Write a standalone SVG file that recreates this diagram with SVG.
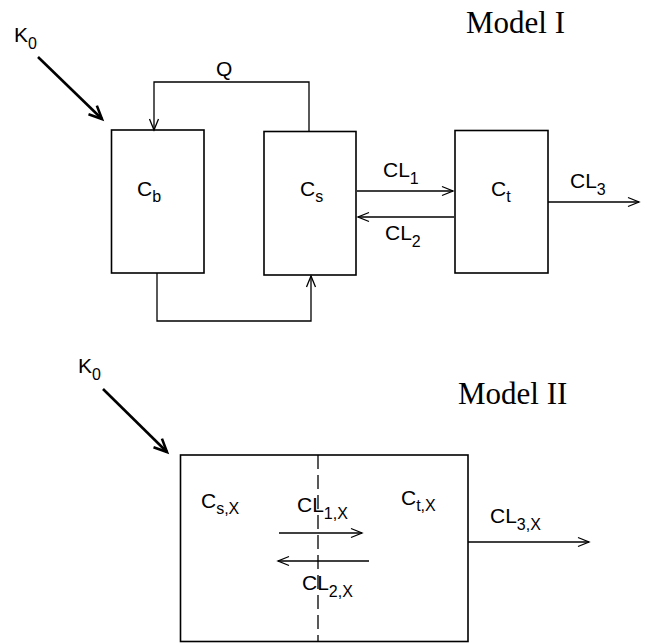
<svg xmlns="http://www.w3.org/2000/svg" width="645" height="643" viewBox="0 0 645 643">
<defs>
<style>
.box{fill:none;stroke:#000;stroke-width:1.6}
.ln{fill:none;stroke:#000;stroke-width:1.3}
.bold{fill:none;stroke:#000;stroke-width:2.6}
.t{font-family:"Liberation Sans",Arial,sans-serif;font-size:21px;fill:#000}
.s{font-size:16px}
.ti{font-family:"Liberation Serif","Times New Roman",serif;font-size:31px;fill:#000}
</style>
<marker id="a" markerUnits="userSpaceOnUse" markerWidth="16" markerHeight="12" refX="12" refY="5" orient="auto" overflow="visible">
<path d="M1,0.5 L12,5 L1,9.5" fill="none" stroke="#000" stroke-width="1.3"/>
</marker>
<marker id="ab" markerUnits="userSpaceOnUse" markerWidth="20" markerHeight="16" refX="14" refY="7" orient="auto" overflow="visible">
<path d="M1,1 L14,7 L1,13" fill="none" stroke="#000" stroke-width="2.6"/>
</marker>
</defs>

<text class="ti" x="466" y="33">Model I</text>
<text class="ti" x="458" y="404">Model II</text>

<g id="Cb"><rect class="box" x="111.5" y="130" width="92.5" height="143"/><text class="t" x="137" y="196">C<tspan class="s" dy="6">b</tspan></text></g>
<g id="Cs"><rect class="box" x="264" y="131.5" width="92" height="143.5"/><text class="t" x="300" y="196">C<tspan class="s" dy="6">s</tspan></text></g>
<g id="Ct"><rect class="box" x="455" y="130.5" width="93" height="142.5"/><text class="t" x="491" y="196">C<tspan class="s" dy="6">t</tspan></text></g>

<g id="ModelII">
<rect class="box" x="180.5" y="455" width="287.5" height="186.5"/>
<line class="ln" x1="318" y1="455" x2="318" y2="642" stroke-dasharray="14 6"/>
<text class="t" x="201" y="508">C<tspan class="s" dy="6">s,X</tspan></text>
<text class="t" x="401" y="505">C<tspan class="s" dy="6">t,X</tspan></text>
</g>

<g id="labels">
<text class="t" x="14" y="42">K<tspan class="s" dy="7">0</tspan></text>
<text class="t" x="78" y="373">K<tspan class="s" dy="7">0</tspan></text>
<text class="t" x="216" y="76">Q</text>
<text class="t" x="383" y="177">CL<tspan class="s" dy="7">1</tspan></text>
<text class="t" x="385" y="240">CL<tspan class="s" dy="7">2</tspan></text>
<text class="t" x="570" y="188">CL<tspan class="s" dy="7">3</tspan></text>
<text class="t" x="297" y="512">CL<tspan class="s" dy="7">1,X</tspan></text>
<text class="t" x="302" y="590">CL<tspan class="s" dy="7">2,X</tspan></text>
<text class="t" x="490" y="523">CL<tspan class="s" dy="7">3,X</tspan></text>
</g>

<g id="connectors">
<line class="bold" x1="38" y1="57" x2="102" y2="119" marker-end="url(#ab)"/>
<line class="bold" x1="103" y1="389" x2="167" y2="452" marker-end="url(#ab)"/>
<path class="ln" d="M309,131 V82 H154 V130" marker-end="url(#a)"/>
<path class="ln" d="M157,273 V321 H311 V276" marker-end="url(#a)"/>
<line class="ln" x1="357" y1="191" x2="453" y2="191" marker-end="url(#a)"/>
<line class="ln" x1="454" y1="217" x2="358" y2="217" marker-end="url(#a)"/>
<line class="ln" x1="548" y1="202" x2="639" y2="202" marker-end="url(#a)"/>
<line class="ln" x1="279" y1="533" x2="362" y2="533" marker-end="url(#a)"/>
<line class="ln" x1="369" y1="561" x2="278" y2="561" marker-end="url(#a)"/>
<line class="ln" x1="468" y1="542" x2="589" y2="542" marker-end="url(#a)"/>
</g>
</svg>
